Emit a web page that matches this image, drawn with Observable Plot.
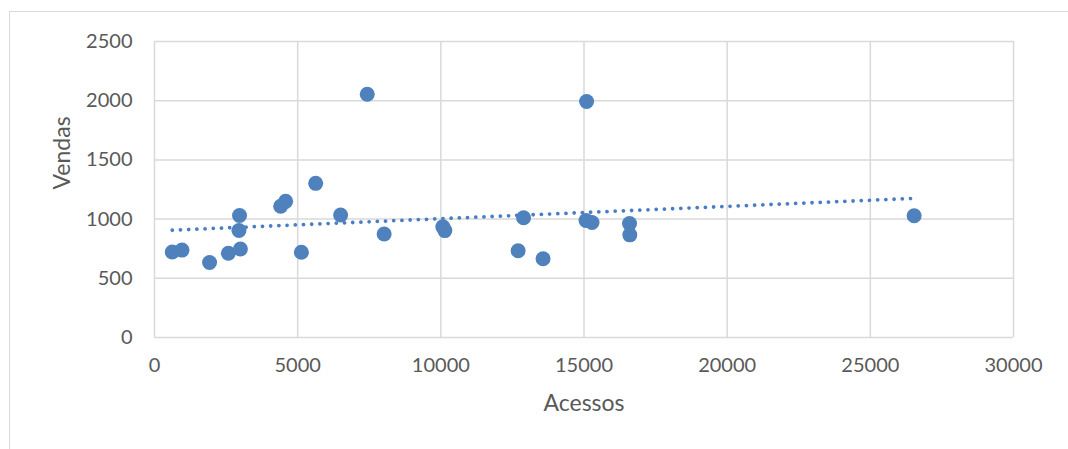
<!DOCTYPE html>
<html>
<head>
<meta charset="utf-8">
<script src="https://cdn.jsdelivr.net/npm/d3@7"></script>
<script src="https://cdn.jsdelivr.net/npm/@observablehq/plot@0.6"></script>
<style>
  html, body { margin: 0; padding: 0; background: #fff; overflow: hidden; }
  #wrap { position: relative; width: 1068px; height: 449px; }
  #border { position: absolute; left: 9px; top: 11px; width: 1100px; height: 500px; border: 1px solid #d9d9d9; box-sizing: border-box; }
  #chart { position: absolute; left: 0; top: 0; }
</style>
</head>
<body>
<div id="wrap"><div id="border"></div><div id="chart"></div></div>
<script>
const acessos = [620, 960, 1923, 2580, 3000, 2970, 2950, 4406, 4580, 5130, 5629, 6500, 7430, 8020, 10070, 10140, 12700, 12890, 13570, 15090, 15070, 15280, 16590, 16600, 26530];
const vendas  = [722, 738, 633, 712, 748, 1030, 904, 1108, 1150, 720, 1302, 1035, 2054, 874, 935, 903, 733, 1011, 665, 1993, 988, 971, 962, 867, 1028];
const xTicks = [0, 5000, 10000, 15000, 20000, 25000, 30000];
const yTicks = [0, 500, 1000, 1500, 2000, 2500];
const xTitle = "Acessos";
const yTitle = "Vendas";

const data = acessos.map((a, i) => ({acessos: a, vendas: vendas[i]}));
const color = "#4f81bd";

const chart = Plot.plot({
  width: 1068,
  height: 449,
  marginLeft: 154,
  marginRight: 55,
  marginTop: 41,
  marginBottom: 112,
  style: {fontFamily: "Lato, sans-serif", fontSize: "20px", color: "#595959", background: "transparent"},
  x: {domain: [0, 30000]},
  y: {domain: [0, 2500]},
  marks: [
    Plot.gridX(xTicks, {stroke: "#d9d9d9", strokeOpacity: 1, strokeWidth: 1.5}),
    Plot.gridY(yTicks, {stroke: "#d9d9d9", strokeOpacity: 1, strokeWidth: 1.5}),
    Plot.axisX({ticks: xTicks, tickSize: 0, tickPadding: 20, tickFormat: d3.format("d"), label: null, fill: "#595959"}),
    Plot.axisY({ticks: yTicks, tickSize: 0, tickPadding: 22, tickFormat: d3.format("d"), label: null, fill: "#595959"}),
    Plot.linearRegressionY(data, {x: "acessos", y: "vendas", ci: 0, stroke: "#4a7ec4", strokeWidth: 3.8, strokeLinecap: "round", strokeDasharray: "0.01 8.2"}),
    Plot.dot(data, {x: "acessos", y: "vendas", r: 7.5, fill: color, stroke: "none"}),
    Plot.text([xTitle], {frameAnchor: "bottom", dy: 73, fontSize: 23, fill: "#595959"}),
    Plot.text([yTitle], {frameAnchor: "left", dx: -92, rotate: -90, fontSize: 23, fill: "#595959"})
  ]
});
document.getElementById("chart").appendChild(chart);
</script>
</body>
</html>
